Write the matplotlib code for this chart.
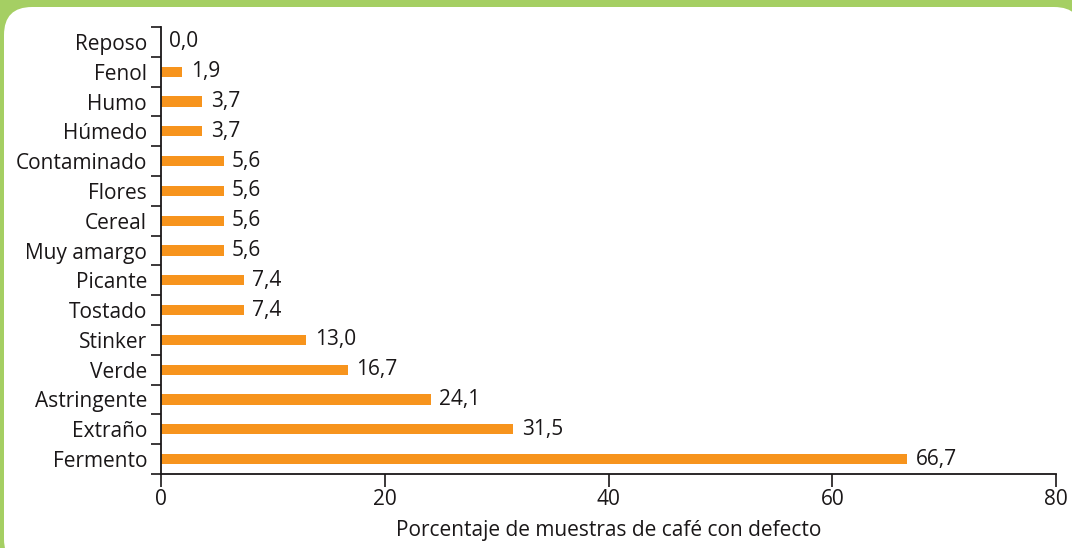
import matplotlib
matplotlib.use("Agg")
import matplotlib.pyplot as plt
from matplotlib.patches import FancyBboxPatch
import numpy as np

plt.rcParams['font.family'] = ['Open Sans', 'DejaVu Sans']

categories = ["Reposo", "Fenol", "Humo", "Húmedo", "Contaminado", "Flores", "Cereal",
              "Muy amargo", "Picante", "Tostado", "Stinker", "Verde", "Astringente",
              "Extraño", "Fermento"]
values = [0.0, 1.9, 3.7, 3.7, 5.6, 5.6, 5.6, 5.6, 7.4, 7.4, 13.0, 16.7, 24.1, 31.5, 66.7]
x_ticks = [0, 20, 40, 60, 80]
x_label = "Porcentaje de muestras de café con defecto"

W, H = 1072, 548
fig = plt.figure(figsize=(W / 100, H / 100), dpi=100)
fig.patch.set_facecolor("#a5cf63")

# background panel
bg = fig.add_axes([0, 0, 1, 1], zorder=0)
bg.set_xlim(0, W)
bg.set_ylim(H, 0)
bg.axis("off")
bg.add_patch(FancyBboxPatch((4, 7), 1078, 560, boxstyle="round,pad=0,rounding_size=28",
                            facecolor="white", edgecolor="none"))

ax = fig.add_axes([161 / W, 1 - 474 / H, (1056 - 161) / W, (474 - 27) / H], zorder=1)
ax.patch.set_alpha(0)
text_color = "#1a1718"
fs = 15
y = np.arange(len(categories))
ax.barh(y, values, height=0.34, color="#f7941d")
ax.set_ylim(len(categories) - 0.5, -0.5)
ax.set_xlim(0, 80)

for yi, v in zip(y, values):
    ax.annotate(f"{v:.1f}".replace(".", ","), (v, yi), xytext=(6, 0), textcoords="offset points",
                va="center", ha="left", fontsize=fs, color=text_color)

ax.set_yticks(y)
ax.set_yticklabels(categories, fontsize=fs, color=text_color)
ax.set_yticks(np.arange(-0.5, len(categories)), minor=True)
ax.tick_params(axis="y", which="major", length=0, pad=10)
ax.tick_params(axis="y", which="minor", length=7, width=1.2, color=text_color)
ax.set_xticks(x_ticks)
ax.set_xticklabels([str(t) for t in x_ticks], fontsize=fs, color=text_color)
ax.tick_params(axis="x", length=9, width=1.2, color=text_color, pad=2)
ax.set_xlabel(x_label, fontsize=fs, color=text_color, labelpad=7)

for s in ["top", "right"]:
    ax.spines[s].set_visible(False)
for s in ["left", "bottom"]:
    ax.spines[s].set_color(text_color)
    ax.spines[s].set_linewidth(1.3)

fig.savefig("out.png", dpi=100, facecolor=fig.get_facecolor())
